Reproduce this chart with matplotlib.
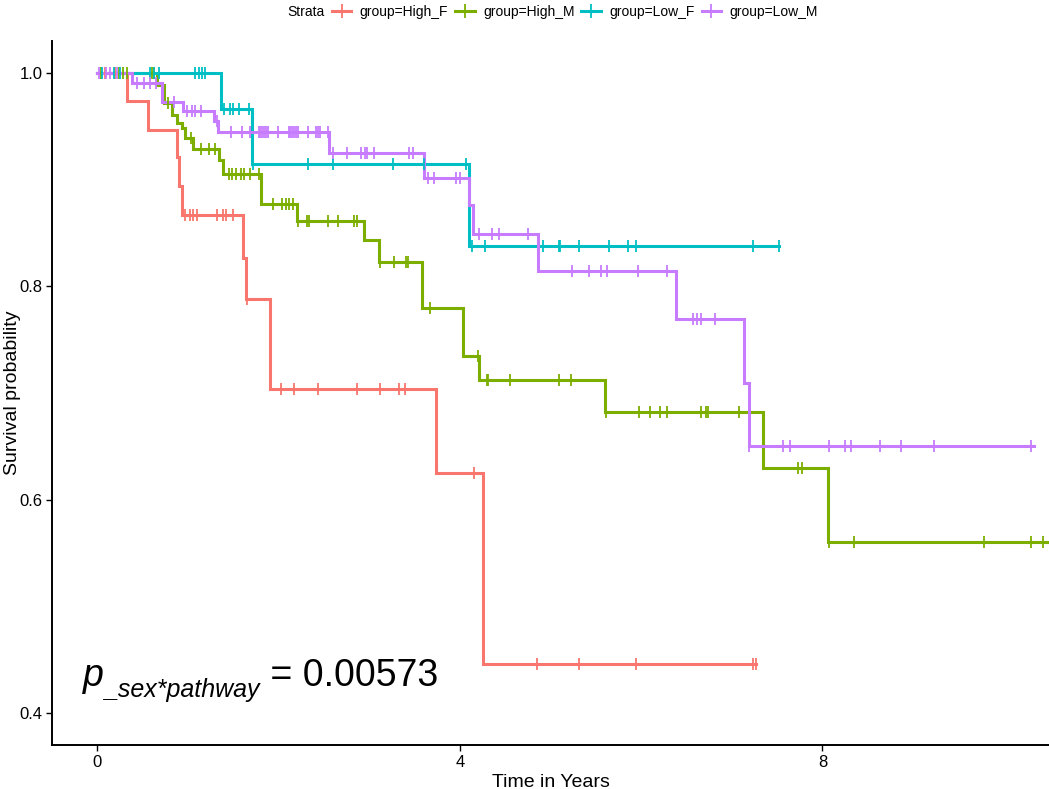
import numpy as np
import matplotlib
matplotlib.use("Agg")
import matplotlib.pyplot as plt
from matplotlib.lines import Line2D

plt.rcParams['font.family'] = ['Liberation Sans', 'DejaVu Sans']

# ---------------- data ----------------
groups = ["group=High_F", "group=High_M", "group=Low_F", "group=Low_M"]
colors = ["#F8766D", "#7CAE00", "#00BFC4", "#C77CFF"]

highF_times = [0, 0.33, 0.56, 0.88, 0.90, 0.93, 1.61, 1.64, 1.91, 3.74, 4.26]
highF_surv = [1.0, 0.974, 0.947, 0.921, 0.894, 0.867, 0.827, 0.788, 0.704, 0.625, 0.446]
highF_end = 7.27
highF_cens = [0.08, 0.20, 0.97, 1.02, 1.06, 1.10, 1.32, 1.39, 1.42, 1.50, 1.65,
              2.03, 2.17, 2.43, 2.86, 3.12, 3.33, 3.40, 4.16, 4.85, 5.31, 5.94,
              7.23, 7.27]

highM_times = [0, 0.66, 0.74, 0.82, 0.88, 0.93, 0.97, 1.06, 1.34, 1.39, 1.81,
               2.20, 2.94, 3.11, 3.58, 4.03, 4.21, 5.60, 7.35, 8.06]
highM_surv = [1.0, 0.989, 0.972, 0.961, 0.953, 0.948, 0.939, 0.929, 0.918, 0.905,
              0.877, 0.861, 0.843, 0.823, 0.780, 0.735, 0.712, 0.682, 0.630, 0.560]
highM_end = 10.49
highM_cens = [0.04, 0.24, 0.28, 0.33, 0.60, 0.63, 0.78, 1.03, 1.14, 1.23, 1.30,
              1.45, 1.49, 1.53, 1.58, 1.62, 1.69, 1.78, 1.94, 2.04, 2.08, 2.11,
              2.16, 2.21, 2.31, 2.34, 2.55, 2.65, 2.83, 2.87, 3.12, 3.27, 3.41,
              3.43, 3.67, 4.20, 4.30, 4.31, 4.55, 5.09, 5.23, 5.61, 5.98, 6.10,
              6.21, 6.29, 6.66, 6.72, 6.74, 7.08, 7.73, 7.77, 8.07, 8.35, 9.78,
              10.30, 10.43]

lowF_times = [0, 1.37, 1.71, 4.10]
lowF_surv = [1.0, 0.966, 0.915, 0.838]
lowF_end = 7.52
lowF_cens = [0.05, 0.18, 0.25, 0.58, 0.62, 0.68, 1.08, 1.12, 1.15, 1.19, 1.40,
             1.46, 1.50, 1.56, 1.67, 1.72, 2.32, 2.60, 3.26, 3.60, 4.07, 4.13,
             4.28, 4.92, 5.09, 5.10, 5.31, 5.64, 5.85, 5.94, 7.23, 7.52]

lowM_times = [0, 0.38, 0.71, 0.95, 1.29, 1.33, 2.56, 3.60, 4.10, 4.14, 4.86,
              6.39, 7.14, 7.19]
lowM_surv = [1.0, 0.991, 0.973, 0.964, 0.955, 0.945, 0.925, 0.902, 0.876, 0.849,
             0.814, 0.769, 0.709, 0.650]
lowM_end = 10.33
lowM_cens = [0.02, 0.10, 0.14, 0.22, 0.44, 0.51, 0.58, 0.65, 0.85, 0.99, 1.05,
             1.08, 1.14, 1.32, 1.47, 1.60, 1.69, 1.78, 1.80, 1.82, 1.84, 1.86,
             1.88, 1.99, 2.11, 2.13, 2.15, 2.17, 2.19, 2.21, 2.32, 2.41, 2.43,
             2.46, 2.55, 2.60, 2.76, 2.91, 2.95, 2.98, 3.05, 3.44, 3.48, 3.65,
             3.71, 3.96, 4.00, 4.21, 4.36, 4.43, 4.75, 5.24, 5.43, 5.56, 5.62,
             5.96, 6.29, 6.57, 6.62, 6.66, 6.82, 7.19, 7.57, 7.64, 8.07, 8.25,
             8.31, 8.63, 8.87, 9.23, 10.30]

curves = [
    (highF_times, highF_surv, highF_end, highF_cens),
    (highM_times, highM_surv, highM_end, highM_cens),
    (lowF_times, lowF_surv, lowF_end, lowF_cens),
    (lowM_times, lowM_surv, lowM_end, lowM_cens),
]

x_ticks = [0, 4, 8]
y_ticks = [0.4, 0.6, 0.8, 1.0]
y_ticklabels = ["0.4", "0.6", "0.8", "1.0"]
p_main = "p"
p_sub = "_sex*pathway"
p_value = " = 0.00573"

# ---------------- figure ----------------
W, H = 1049, 789
fig = plt.figure(figsize=(W / 100, H / 100), dpi=100)
ax = fig.add_axes([52 / W, 1 - 745 / H, (W - 52) / W, (745 - 41) / H])

for (times, surv, end, cens), col in zip(curves, colors):
    t = np.array(list(times) + [end])
    s = np.array(list(surv) + [surv[-1]])
    ax.step(t, s, where="post", color=col, lw=2.2, solid_joinstyle="miter", zorder=3)
    cens = np.array(cens)
    idx = np.searchsorted(np.array(times), cens, side="right") - 1
    ax.plot(cens, np.array(surv)[idx], linestyle="none", marker="|",
            markersize=9, mew=1.3, color=col, zorder=4)

ax.set_xlim(-0.5, 10.5)
ax.set_ylim(0.37, 1.03)
ax.set_xticks(x_ticks)
ax.set_xticklabels([str(v) for v in x_ticks])
ax.set_yticks(y_ticks)
ax.set_yticklabels(y_ticklabels)
ax.tick_params(axis="both", labelsize=12, length=4, width=1.0, colors="black",
               pad=3)
for side in ["top", "right"]:
    ax.spines[side].set_visible(False)
for side in ["left", "bottom"]:
    ax.spines[side].set_linewidth(1.4)
    ax.spines[side].set_color("black")

ax.set_xlabel("Time in Years", fontsize=14, labelpad=3)
ax.set_ylabel("Survival probability", fontsize=14)
ax.yaxis.set_label_coords(-0.031, 0.5)

# p-value annotation: p (italic) + italic subscript + value
t1 = ax.text(-0.155, 0.4255, p_main, fontsize=27, style="italic",
             ha="left", va="baseline", transform=ax.transData)
t2 = ax.annotate(p_sub, xy=(1, 0), xycoords=t1, xytext=(0.5, -2),
                 textcoords="offset points", fontsize=18, style="italic",
                 ha="left", va="baseline")
t3 = ax.annotate(p_value, xy=(1, 0), xycoords=(t2, t1), xytext=(0, 0),
                 textcoords="offset points", fontsize=27,
                 ha="left", va="bottom")

# legend
fig.text(325 / W, 1 - 12 / H, "Strata", fontsize=10, ha="right", va="center")
handles = [Line2D([0], [0], color=c, lw=2.2, marker="+", markersize=10, mew=1.3)
           for c in colors]
fig.legend(handles, groups, loc="center left", bbox_to_anchor=(332 / W, 1 - 12 / H),
           ncol=4, frameon=False, fontsize=10, handlelength=1.4,
           handletextpad=0.6, columnspacing=0.5, borderaxespad=0, borderpad=0)

fig.savefig("out.png", dpi=100)
